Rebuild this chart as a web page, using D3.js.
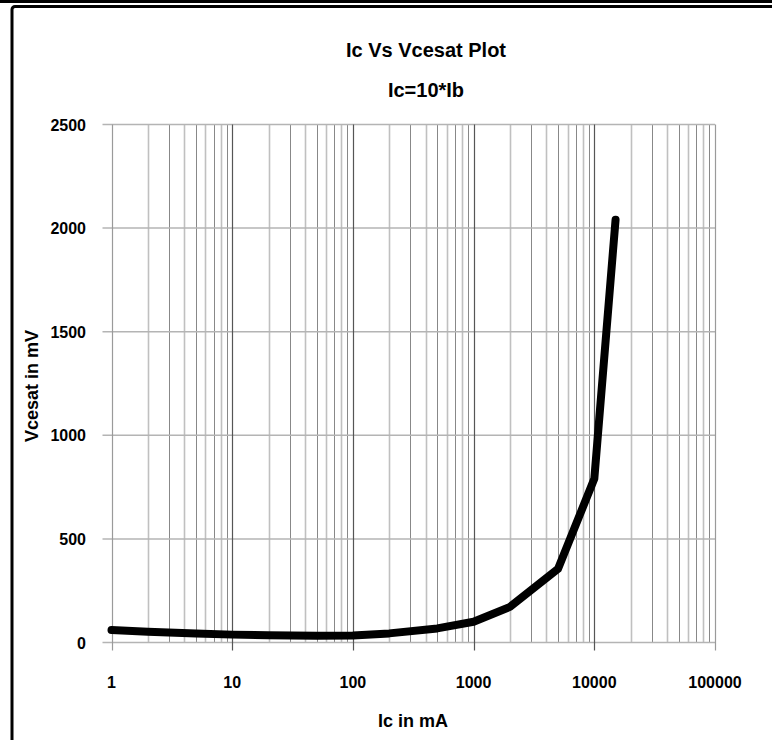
<!DOCTYPE html>
<html>
<head>
<meta charset="utf-8">
<script src="https://cdn.jsdelivr.net/npm/d3@7"></script>
<style>
  body { margin: 0; background: #fff; }
  text { font-family: Arial, "Liberation Sans", sans-serif; font-weight: bold; fill: #000; }
</style>
</head>
<body>
<svg width="772" height="740"></svg>
<script>
// Ic (mA) vs Vcesat (mV), Ic = 10*Ib
var icValues = [1, 2, 5, 10, 20, 50, 100, 200, 500, 1000, 2000, 5000, 10000, 15000];
var vceValues = [60, 52, 43, 38, 35, 33, 34, 44, 68, 100, 172, 355, 790, 2040];
var xTicks = [1, 10, 100, 1000, 10000, 100000];
var yTicks = [0, 500, 1000, 1500, 2000, 2500];

var svg = d3.select("svg");

var plotL = 111.5, plotR = 715, plotT = 124.5, plotB = 642.5;

var x = d3.scaleLog().domain([1, 100000]).range([plotL, plotR]);
var y = d3.scaleLinear().domain([0, 2500]).range([plotB, plotT]);

// frame
svg.append("line")
  .attr("x1", 0).attr("x2", 772)
  .attr("y1", 1.5).attr("y2", 1.5)
  .attr("stroke", "#000").attr("stroke-width", 3);

svg.append("rect")
  .attr("x", 12).attr("y", 6.5)
  .attr("width", 800).attr("height", 800)
  .attr("rx", 3)
  .attr("fill", "none")
  .attr("stroke", "#000").attr("stroke-width", 3);

// minor vertical grid
var vlines = [];
for (var d = 1; d < 100000; d *= 10) {
  for (var k = 2; k <= 9; k++) vlines.push(d * k);
}

svg.append("g")
  .selectAll("line")
  .data(vlines)
  .enter()
  .append("line")
  .attr("x1", function(d) { return Math.round(x(d)) + 0.5; })
  .attr("x2", function(d) { return Math.round(x(d)) + 0.5; })
  .attr("y1", plotT).attr("y2", plotB)
  .attr("stroke", function(d, i) { return i % 2 ? "#888" : "#c0c0c0"; })
  .attr("stroke-width", function(d, i) { return i % 2 ? 1 : 1.6; });

// horizontal grid + y ticks
svg.append("g")
  .selectAll("line")
  .data(yTicks)
  .enter()
  .append("line")
  .attr("x1", plotL - 9).attr("x2", plotR)
  .attr("y1", function(d) { return y(d); })
  .attr("y2", function(d) { return y(d); })
  .attr("stroke", "#b4b4b4").attr("stroke-width", 1.5);

// decade lines + x ticks
svg.append("g")
  .selectAll("line")
  .data(xTicks)
  .enter()
  .append("line")
  .attr("x1", function(d) { return Math.round(x(d)) + 0.5; })
  .attr("x2", function(d) { return Math.round(x(d)) + 0.5; })
  .attr("y1", plotT).attr("y2", plotB + 8)
  .attr("stroke", function(d, i) { return i == 0 || i == 5 ? "#9a9a9a" : "#555"; })
  .attr("stroke-width", 1.2);

// tick labels
svg.append("g")
  .selectAll("text")
  .data(yTicks)
  .enter()
  .append("text")
  .attr("x", 86)
  .attr("y", function(d) { return y(d) + 6; })
  .attr("text-anchor", "end")
  .attr("font-size", "16px")
  .text(function(d) { return d; });

svg.append("g")
  .selectAll("text")
  .data(xTicks)
  .enter()
  .append("text")
  .attr("x", function(d) { return x(d); })
  .attr("y", 688)
  .attr("text-anchor", "middle")
  .attr("font-size", "16px")
  .text(function(d) { return d; });

// the curve
var line = d3.line()
  .x(function(d, i) { return x(icValues[i]); })
  .y(function(d) { return y(d); });

svg.append("path")
  .datum(vceValues)
  .attr("d", line)
  .attr("fill", "none")
  .attr("stroke", "#000")
  .attr("stroke-width", 8)
  .attr("stroke-linejoin", "round")
  .attr("stroke-linecap", "round");

// titles
svg.append("text")
  .attr("x", 426).attr("y", 57)
  .attr("text-anchor", "middle")
  .attr("font-size", "20px")
  .text("Ic Vs Vcesat Plot");

svg.append("text")
  .attr("x", 426).attr("y", 97)
  .attr("text-anchor", "middle")
  .attr("font-size", "20px")
  .text("Ic=10*Ib");

svg.append("text")
  .attr("x", 413).attr("y", 727)
  .attr("text-anchor", "middle")
  .attr("font-size", "18px")
  .text("Ic in mA");

svg.append("text")
  .attr("transform", "translate(38,386) rotate(-90)")
  .attr("text-anchor", "middle")
  .attr("font-size", "18px")
  .text("Vcesat in mV");
</script>
</body>
</html>
